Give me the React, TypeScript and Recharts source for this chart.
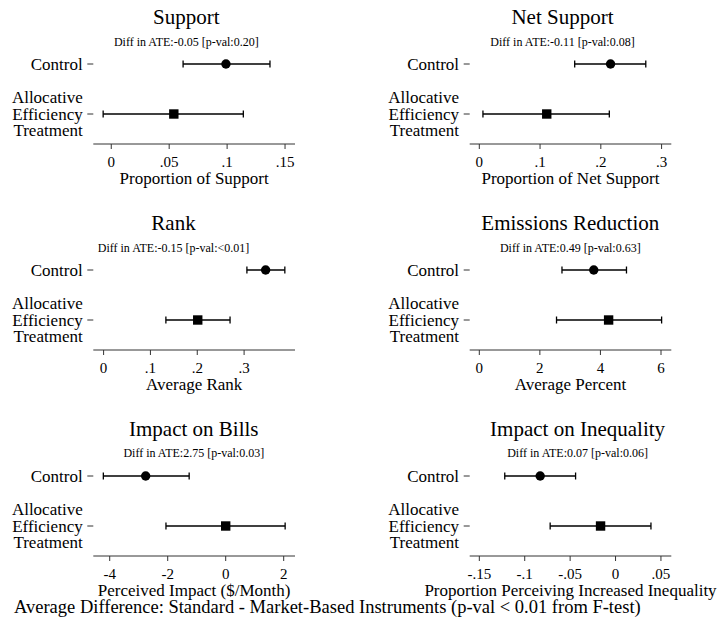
import React from 'react';
import { ScatterChart, Scatter, XAxis, YAxis, ErrorBar } from 'recharts';

const FONT = 'Liberation Serif, serif';

const panelTitles = ['Support', 'Net Support', 'Rank', 'Emissions Reduction', 'Impact on Bills', 'Impact on Inequality'];
const panelSubtitles = [
  'Diff in ATE:-0.05 [p-val:0.20]',
  'Diff in ATE:-0.11 [p-val:0.08]',
  'Diff in ATE:-0.15 [p-val:<0.01]',
  'Diff in ATE:0.49 [p-val:0.63]',
  'Diff in ATE:2.75 [p-val:0.03]',
  'Diff in ATE:0.07 [p-val:0.06]',
];
const xAxisTitles = [
  'Proportion of Support',
  'Proportion of Net Support',
  'Average Rank',
  'Average Percent',
  'Perceived Impact ($/Month)',
  'Proportion Perceiving Increased Inequality',
];
const groupLabels = [['Control'], ['Allocative', 'Efficiency', 'Treatment']];

const controlEstimate = [0.099, 0.216, 0.346, 3.78, -2.76, -0.083];
const controlLow = [0.062, 0.157, 0.306, 2.73, -4.22, -0.122];
const controlHigh = [0.137, 0.274, 0.387, 4.86, -1.26, -0.044];
const treatmentEstimate = [0.054, 0.111, 0.201, 4.27, 0.0, -0.0165];
const treatmentLow = [-0.007, 0.006, 0.133, 2.55, -2.06, -0.072];
const treatmentHigh = [0.114, 0.214, 0.27, 6.02, 2.05, 0.039];

const xTicks = [
  [0, 0.05, 0.1, 0.15],
  [0, 0.1, 0.2, 0.3],
  [0, 0.1, 0.2, 0.3],
  [0, 2, 4, 6],
  [-4, -2, 0, 2],
  [-0.15, -0.1, -0.05, 0, 0.05],
];
const xDomains = [
  [-0.0155, 0.1586],
  [-0.0158, 0.316],
  [-0.022, 0.4087],
  [-0.317, 6.34],
  [-4.566, 2.39],
  [-0.1606, 0.0614],
];
const caption = 'Average Difference: Standard - Market-Based Instruments (p-val < 0.01 from F-test)';

// layout
const colLeft = [0, 358];
const colWidth = [358, 359];
const plotLeft = [93.3, 469.7];
const plotRight = [295, 671.3];
const rowAxisY = [144, 350, 555.7];
const titleCenterX = [186.3, 562.5, 173.5, 570.3, 193.8, 577.6];
const CHART_H = 200;
const PLOT_TOP = 39;

const fmtTick = (v: number) => (v === 0 ? '0' : String(v).replace(/^(-?)0\./, '$1.'));

const YTick = (props: any) => {
  const { x, y, payload } = props;
  const lines = groupLabels[payload.value - 1] || [];
  const lh = 16.3;
  return (
    <g>
      {lines.map((l, i) => (
        <text
          key={i}
          x={x}
          y={y + (i - (lines.length - 1) / 2) * lh}
          textAnchor="end"
          dominantBaseline="central"
          style={{ fontFamily: FONT, fontSize: 17 }}
          fill="#000"
        >
          {l}
        </text>
      ))}
    </g>
  );
};

const circleShape = (p: any) => <circle cx={p.cx} cy={p.cy} r={4.7} fill="#000" />;
const squareShape = (p: any) => <rect x={p.cx - 4.7} y={p.cy - 4.7} width={9.4} height={9.4} fill="#000" />;

const Panel = ({ i }: { i: number }) => {
  const col = i % 2;
  const row = Math.floor(i / 2);
  const left = colLeft[col];
  const top = rowAxisY[row] - 144;
  const w = colWidth[col];
  const controlData = [{ y: 1, x: controlEstimate[i], err: [controlEstimate[i] - controlLow[i], controlHigh[i] - controlEstimate[i]] }];
  const treatData = [{ y: 2, x: treatmentEstimate[i], err: [treatmentEstimate[i] - treatmentLow[i], treatmentHigh[i] - treatmentEstimate[i]] }];
  return (
    <div style={{ position: 'absolute', left, top, width: w, height: CHART_H, fontFamily: FONT }}>
      <ScatterChart
        width={w}
        height={CHART_H}
        margin={{ top: PLOT_TOP, right: left + w - plotRight[col], bottom: 0, left: 0 }}
        style={{ fontFamily: FONT }}
      >
        <XAxis
          type="number"
          dataKey="x"
          domain={xDomains[i]}
          ticks={xTicks[i]}
          allowDataOverflow
          tickFormatter={fmtTick}
          height={CHART_H - 144}
          tickSize={5}
          tickMargin={7.5}
          stroke="#333"
          tick={{ fontSize: 15, fill: '#000', style: { fontFamily: FONT } }}
          interval={0}
        />
        <YAxis
          type="number"
          dataKey="y"
          domain={[0.5, 2.6]}
          ticks={[1, 2]}
          allowDataOverflow
          reversed
          width={plotLeft[col] - left}
          axisLine={false}
          tickSize={6}
          tickMargin={4.6}
          tickLine={{ stroke: '#333' }}
          tick={<YTick />}
          interval={0}
        />
        <Scatter data={controlData} shape={circleShape} isAnimationActive={false}>
          <ErrorBar dataKey="err" direction="x" width={3.5} stroke="#000" strokeWidth={1.3} isAnimationActive={false} />
        </Scatter>
        <Scatter data={treatData} shape={squareShape} isAnimationActive={false}>
          <ErrorBar dataKey="err" direction="x" width={3.5} stroke="#000" strokeWidth={1.3} isAnimationActive={false} />
        </Scatter>
      </ScatterChart>
    </div>
  );
};

export default function App() {
  return (
    <div style={{ position: 'absolute', left: 0, top: 0, width: 717, height: 628, background: '#fff', overflow: 'hidden', fontFamily: FONT }}>
      {panelTitles.map((_, i) => (
        <Panel key={i} i={i} />
      ))}
      <svg width={717} height={628} style={{ position: 'absolute', left: 0, top: 0, pointerEvents: 'none', fontFamily: FONT }}>
        {panelTitles.map((t, i) => {
          const col = i % 2;
          const row = Math.floor(i / 2);
          const ax = rowAxisY[row];
          const cx = (plotLeft[col] + plotRight[col]) / 2;
          return (
            <g key={i} fill="#000">
              <text x={titleCenterX[i]} y={ax - 119.7} textAnchor="middle" style={{ fontFamily: FONT, fontSize: 21 }}>
                {t}
              </text>
              <text x={titleCenterX[i]} y={ax - 98.5} textAnchor="middle" style={{ fontFamily: FONT, fontSize: 12 }}>
                {panelSubtitles[i]}
              </text>
              <text x={cx} y={ax + 40.3} textAnchor="middle" style={{ fontFamily: FONT, fontSize: 17 }}>
                {xAxisTitles[i]}
              </text>
            </g>
          );
        })}
        <text x={14} y={613.3} fill="#000" style={{ fontFamily: FONT, fontSize: 18.5 }}>
          {caption}
        </text>
      </svg>
    </div>
  );
}
